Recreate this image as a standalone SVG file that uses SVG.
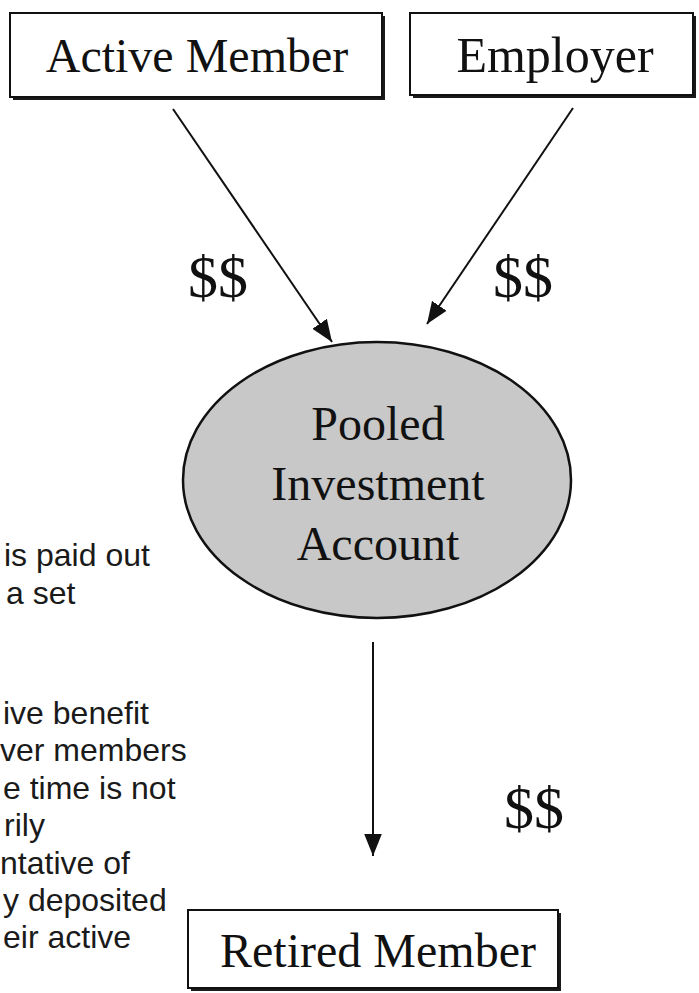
<svg xmlns="http://www.w3.org/2000/svg" width="699" height="993" viewBox="0 0 699 993">
<style>
.box{fill:#fff;stroke:#111;stroke-width:2}
.shadow{fill:#1a1a1a}
.lbl{font-family:"Liberation Serif","Times New Roman",serif;font-size:48px;fill:#111;text-anchor:middle}
.money{font-family:"Liberation Serif","Times New Roman",serif;font-size:60px;fill:#111}
.note{font-family:"Liberation Sans",Arial,sans-serif;font-size:32px;fill:#1a1a1a}
.conn{stroke:#111;stroke-width:2;fill:none}
</style>
<defs>
<marker id="ah" viewBox="0 0 10 10" refX="10" refY="5" markerWidth="11" markerHeight="11" orient="auto" markerUnits="strokeWidth">
<path d="M0,1 L10,5 L0,9 Z" fill="#111"/>
</marker>
</defs>
<rect width="699" height="993" fill="#fff"/>
<g id="active-member">
<rect class="shadow" x="13" y="16" width="372" height="84"/>
<rect class="box" x="10" y="13" width="372" height="84"/>
<text class="lbl" x="197" y="72">Active Member</text>
</g>
<g id="employer">
<rect class="shadow" x="413" y="16" width="283" height="82"/>
<rect class="box" x="410" y="13" width="283" height="82"/>
<text class="lbl" x="555" y="72" style="font-size:50px">Employer</text>
</g>
<g id="pooled-investment-account">
<ellipse cx="377" cy="480" rx="194" ry="138" fill="#c8c8c8" stroke="#111" stroke-width="2.5"/>
<text class="lbl" x="378" y="440">Pooled</text>
<text class="lbl" x="378" y="500">Investment</text>
<text class="lbl" x="378" y="560">Account</text>
</g>
<g id="retired-member">
<rect class="shadow" x="191" y="913" width="370" height="78"/>
<rect class="box" x="188" y="910" width="370" height="78"/>
<text class="lbl" x="378" y="967">Retired Member</text>
</g>
<g id="connectors">
<line class="conn" x1="173" y1="109" x2="332" y2="342" marker-end="url(#ah)"/>
<line class="conn" x1="573" y1="108" x2="427" y2="324" marker-end="url(#ah)"/>
<line class="conn" x1="373" y1="642" x2="373" y2="856" marker-end="url(#ah)"/>
<text class="money" x="188" y="297">$$</text>
<text class="money" x="493" y="297">$$</text>
<text class="money" x="504" y="828">$$</text>
</g>
<g id="side-note">
<text class="note" x="4" y="566">is paid out</text>
<text class="note" x="6" y="604">a set</text>
<text class="note" x="3" y="724">ive benefit</text>
<text class="note" x="0" y="761">ver members</text>
<text class="note" x="3" y="799">e time is not</text>
<text class="note" x="4" y="836">rily</text>
<text class="note" x="0" y="874">ntative of</text>
<text class="note" x="3" y="911">y deposited</text>
<text class="note" x="3" y="948">eir active</text>
</g>
</svg>
